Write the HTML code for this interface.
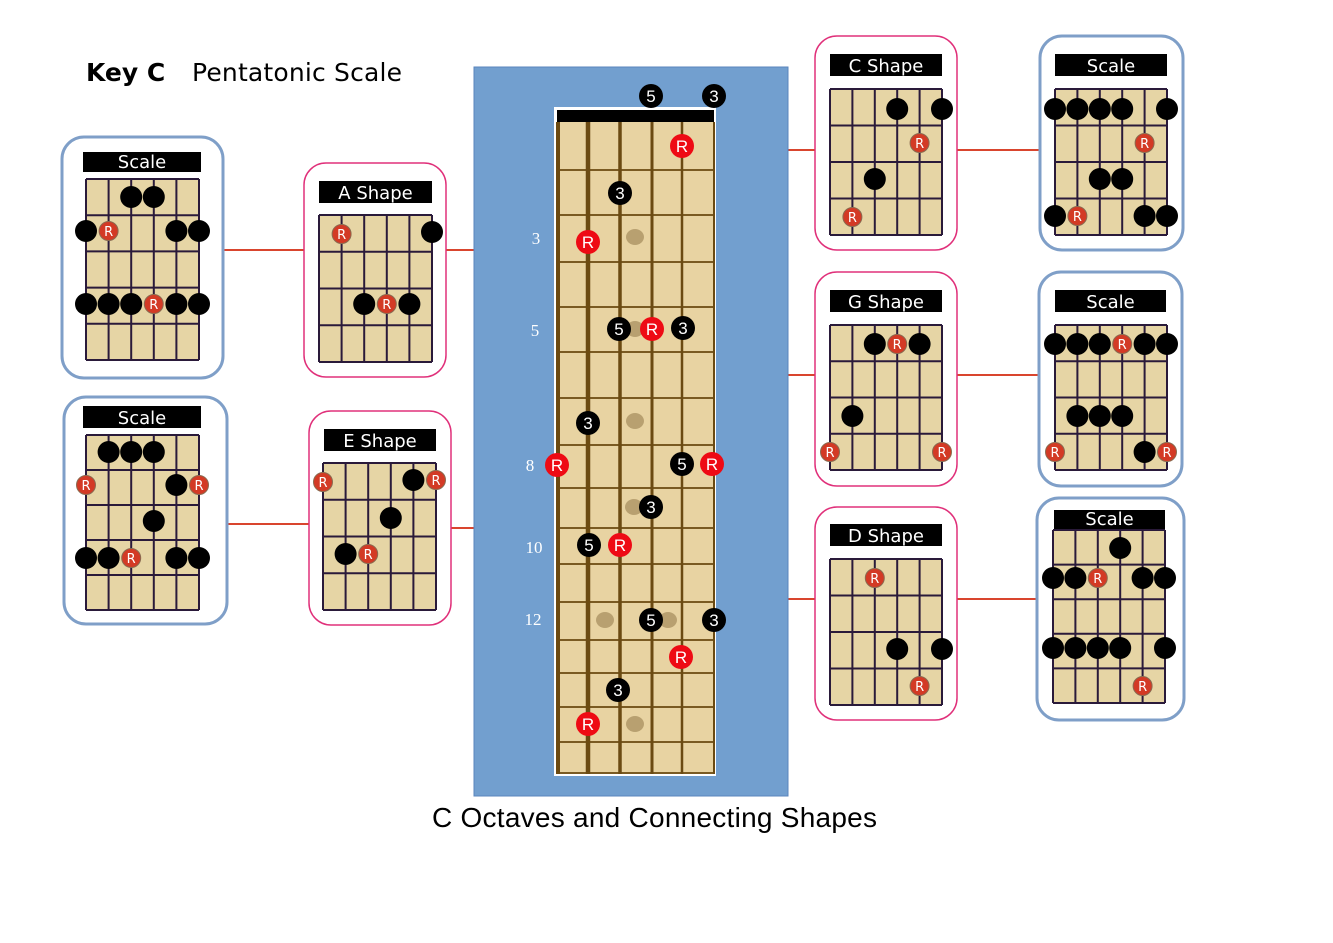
<!DOCTYPE html>
<html><head><meta charset="utf-8">
<style>
html,body{margin:0;padding:0;background:#fff;}
svg{display:block;}
</style></head>
<body>
<svg id="s" width="1333" height="943" viewBox="0 0 1333 943" xmlns="http://www.w3.org/2000/svg" font-family="DejaVu Sans, Liberation Sans, sans-serif">
<rect width="1333" height="943" fill="#fff"/>
<text x="86" y="81" font-size="25" font-weight="bold" fill="#000">Key C</text>
<text x="192" y="81" font-size="25" fill="#000" textLength="210">Pentatonic Scale</text>
<g stroke="#d9452e" stroke-width="2">
<line x1="223" y1="250" x2="304" y2="250"/>
<line x1="446" y1="250" x2="474" y2="250"/>
<line x1="227" y1="524" x2="309" y2="524"/>
<line x1="451" y1="528" x2="474" y2="528"/>
<line x1="788" y1="150" x2="815" y2="150"/>
<line x1="957" y1="150" x2="1040" y2="150"/>
<line x1="788" y1="375" x2="815" y2="375"/>
<line x1="957" y1="375" x2="1039" y2="375"/>
<line x1="788" y1="599" x2="815" y2="599"/>
<line x1="957" y1="599" x2="1037" y2="599"/>
</g>
<text x="432" y="827" font-size="28" font-family="Liberation Sans, sans-serif" fill="#000" textLength="445">C Octaves and Connecting Shapes</text>
</svg>
<script>
var s=document.getElementById('s');var NS='http://www.w3.org/2000/svg';
function el(t,a,txt){var e=document.createElementNS(NS,t);for(var k in a)e.setAttribute(k,a[k]);if(txt!==undefined)e.textContent=txt;s.appendChild(e);return e;}
function box(x1,y1,x2,y2,c,w){el('rect',{x:x1,y:y1,width:x2-x1,height:y2-y1,rx:22,ry:22,fill:'#fff',stroke:c,'stroke-width':w});}
function title(x1,y1,x2,y2,t){el('rect',{x:x1,y:y1,width:x2-x1,height:y2-y1,fill:'#000'});el('text',{x:(x1+x2)/2,y:y2-4,'font-size':18,'text-anchor':'middle',fill:'#fff'},t);}
function grid(x1,y1,x2,y2,rows,dots){
 el('rect',{x:x1,y:y1,width:x2-x1,height:y2-y1,fill:'#e6d5a5'});
 var sp=(x2-x1)/5,rh=(y2-y1)/rows;
 for(var i=0;i<=rows;i++)el('line',{x1:x1,y1:y1+i*rh,x2:x2,y2:y1+i*rh,stroke:'#2a1a3a','stroke-width':2});
 for(var j=0;j<6;j++)el('line',{x1:x1+j*sp,y1:y1,x2:x1+j*sp,y2:y2,stroke:'#2a1a3a','stroke-width':2});
 dots.forEach(function(d){var cx=x1+(d[0]-1)*sp,cy=d[1];
  if(d[2]=='R'){el('circle',{cx:cx,cy:cy,r:9.5,fill:'#d33a25',stroke:'#8a6a50','stroke-width':1});el('text',{x:cx,y:cy+5,'font-size':13,'text-anchor':'middle',fill:'#fff'},'R');}
  else el('circle',{cx:cx,cy:cy,r:11,fill:'#000'});});
}
var B='#7f9fc8',P='#e0307a';
box(62,137,223,378,B,3);title(83,152,201,172,'Scale');
grid(86,179,199,360,5,[[3,197],[4,197],[1,231],[2,231,'R'],[5,231],[6,231],[1,304],[2,304],[3,304],[4,304,'R'],[5,304],[6,304]]);
box(304,163,446,377,P,1.5);title(319,181,432,203,'A Shape');
grid(319,215,432,362,4,[[2,234,'R'],[6,232],[3,304],[4,304,'R'],[5,304]]);
box(64,397,227,624,B,3);title(83,406,201,428,'Scale');
grid(86,435,199,610,5,[[2,452],[3,452],[4,452],[1,485,'R'],[5,485],[6,485,'R'],[4,521],[1,558],[2,558],[3,558,'R'],[5,558],[6,558]]);
box(309,411,451,625,P,1.5);title(324,429,436,451,'E Shape');
grid(323,463,436,610,4,[[1,482,'R'],[5,480],[6,480,'R'],[4,518],[2,554],[3,554,'R']]);
box(815,36,957,250,P,1.5);title(830,54,942,76,'C Shape');
grid(830,89,942,235,4,[[4,109],[6,109],[5,143,'R'],[3,179],[2,217,'R']]);
box(1040,36,1183,250,B,3);title(1055,54,1167,76,'Scale');
grid(1055,89,1167,235,4,[[1,109],[2,109],[3,109],[4,109],[6,109],[5,143,'R'],[3,179],[4,179],[1,216],[2,216,'R'],[5,216],[6,216]]);
box(815,272,957,486,P,1.5);title(830,290,942,312,'G Shape');
grid(830,325,942,470,4,[[3,344],[4,344,'R'],[5,344],[2,416],[1,452,'R'],[6,452,'R']]);
box(1039,272,1182,486,B,3);title(1055,290,1166,312,'Scale');
grid(1055,325,1167,470,4,[[1,344],[2,344],[3,344],[4,344,'R'],[5,344],[6,344],[2,416],[3,416],[4,416],[1,452,'R'],[5,452],[6,452,'R']]);
box(815,507,957,720,P,1.5);title(830,524,942,546,'D Shape');
grid(830,559,942,705,4,[[3,578,'R'],[4,649],[6,649],[5,686,'R']]);
box(1037,498,1184,720,B,3);title(1054,510,1165,529,'Scale');
grid(1053,530,1165,703,5,[[4,548],[1,578],[2,578],[3,578,'R'],[5,578],[6,578],[1,648],[2,648],[3,648],[4,648],[6,648],[5,686,'R']]);
el('rect',{x:474,y:67,width:314,height:729,fill:'#729fcf',stroke:'#5a86bd','stroke-width':1});
el('rect',{x:554,y:107,width:162,height:669,fill:'#fff'});
el('rect',{x:557,y:110,width:157,height:664,fill:'#e8d3a2'});
el('rect',{x:557,y:110,width:157,height:12,fill:'#000'});
[170,215,262,307,352,398,445,488,528,564,602,640,673,707,742,773].forEach(function(y){el('line',{x1:557,y1:y,x2:714,y2:y,stroke:'#7a5a22','stroke-width':2});});
[[635,237],[635,329],[635,421],[634,507],[605,620],[668,620],[635,724]].forEach(function(p){el('ellipse',{cx:p[0],cy:p[1],rx:9,ry:8,fill:'#b8a070'});});
[[558,4],[588,4.5],[620,3.5],[652,3],[682,2.5],[714,2]].forEach(function(p){el('line',{x1:p[0],y1:122,x2:p[0],y2:774,stroke:'#6b4a12','stroke-width':p[1]});});
[['3',536,244],['5',535,336],['8',530,471],['10',534,553],['12',533,625]].forEach(function(p){el('text',{x:p[1],y:p[2],'font-size':17,'text-anchor':'middle',fill:'#fff','font-family':'Liberation Serif, serif'},p[0]);});
[['5',651,96],['3',714,96],['R',682,146],['3',620,193],['R',588,242],['5',619,329],['R',652,329],['3',683,328],['3',588,423],['R',557,465],['5',682,464],['R',712,464],['3',651,507],['5',589,545],['R',620,545],['5',651,620],['3',714,620],['R',681,657],['3',618,690],['R',588,724]].forEach(function(d){
 var r=d[0]=='R';el('circle',{cx:d[1],cy:d[2],r:12,fill:r?'#ee0a14':'#000'});
 el('text',{x:d[1],y:d[2]+6,'font-size':17,'text-anchor':'middle',fill:'#fff','font-family':'Liberation Sans, sans-serif'},d[0]);});
</script>
</body></html>
